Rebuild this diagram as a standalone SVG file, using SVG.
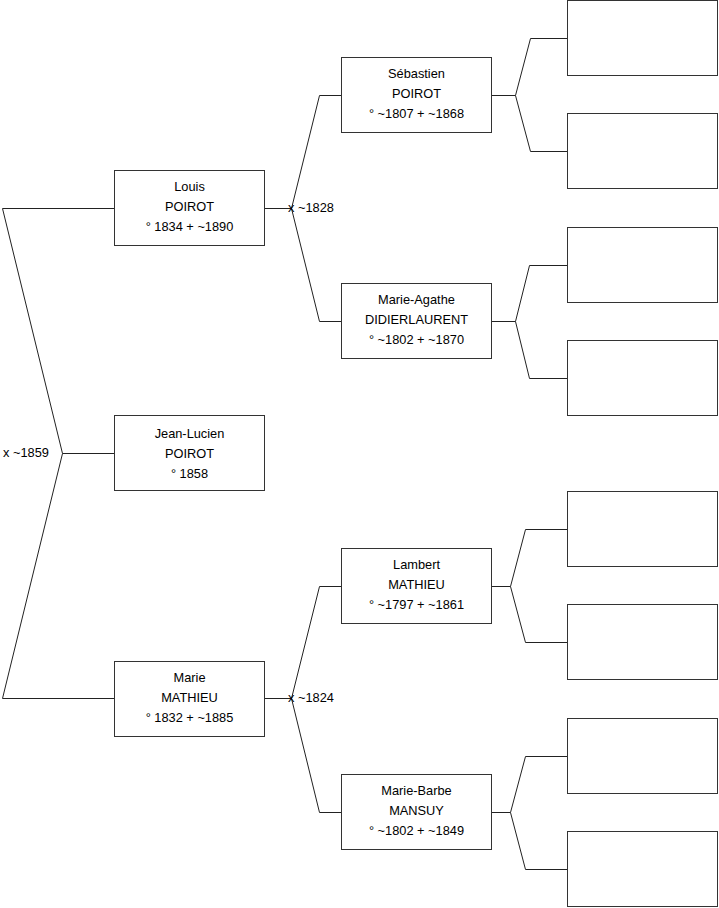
<svg xmlns="http://www.w3.org/2000/svg" width="719" height="908" viewBox="0 0 719 908">
<style>
.box{fill:#fff;stroke:#333;stroke-width:1}
.ln{fill:none;stroke:#222;stroke-width:1}
text{font-family:"Liberation Sans",Arial,sans-serif;font-size:12.8px;fill:#000}
.c{text-anchor:middle}
</style>
<rect width="719" height="908" fill="#fff"/>
<g id="connectors">
<polyline class="ln" points="114.5,208.5 2.5,208.5 62.5,453.5 2.5,698.5 114.5,698.5"/>
<line class="ln" x1="62.5" y1="453.5" x2="114.5" y2="453.5"/>
<polyline class="ln" points="341.5,95.5 319.5,95.5 291.5,208.5 319.5,321.5 341.5,321.5"/>
<line class="ln" x1="264.5" y1="208.5" x2="291.5" y2="208.5"/>
<polyline class="ln" points="341.5,586.5 319.5,586.5 291.5,698.5 319.5,812.5 341.5,812.5"/>
<line class="ln" x1="264.5" y1="698.5" x2="291.5" y2="698.5"/>
<polyline class="ln" points="567.5,38.5 530.5,38.5 515.5,95.5 530.5,151.5 567.5,151.5"/>
<line class="ln" x1="491.5" y1="95.5" x2="515.5" y2="95.5"/>
<polyline class="ln" points="567.5,265.5 529.5,265.5 515.5,321.5 529.5,378.5 567.5,378.5"/>
<line class="ln" x1="491.5" y1="321.5" x2="515.5" y2="321.5"/>
<polyline class="ln" points="567.5,529.5 525.5,529.5 510.5,586.5 525.5,642.5 567.5,642.5"/>
<line class="ln" x1="491.5" y1="586.5" x2="510.5" y2="586.5"/>
<polyline class="ln" points="567.5,756.5 525.5,756.5 510.5,812.5 525.5,869.5 567.5,869.5"/>
<line class="ln" x1="491.5" y1="812.5" x2="510.5" y2="812.5"/>
<text x="3" y="457">x ~1859</text>
<text x="288" y="212">x ~1828</text>
<text x="288" y="702">x ~1824</text>
</g>
<g id="louis"><rect class="box" x="114.5" y="170.5" width="150" height="75"/>
<text class="c" x="189.5" y="191">Louis</text><text class="c" x="189.5" y="211">POIROT</text><text class="c" x="189.5" y="231">° 1834 + ~1890</text></g>
<g id="jeanlucien"><rect class="box" x="114.5" y="415.5" width="150" height="75"/>
<text class="c" x="189.5" y="438">Jean-Lucien</text><text class="c" x="189.5" y="458">POIROT</text><text class="c" x="189.5" y="478">° 1858</text></g>
<g id="marie"><rect class="box" x="114.5" y="661.5" width="150" height="75"/>
<text class="c" x="189.5" y="682">Marie</text><text class="c" x="189.5" y="702">MATHIEU</text><text class="c" x="189.5" y="722">° 1832 + ~1885</text></g>
<g id="sebastien"><rect class="box" x="341.5" y="57.5" width="150" height="75"/>
<text class="c" x="416.5" y="78">Sébastien</text><text class="c" x="416.5" y="98">POIROT</text><text class="c" x="416.5" y="118">° ~1807 + ~1868</text></g>
<g id="marieagathe"><rect class="box" x="341.5" y="283.5" width="150" height="75"/>
<text class="c" x="416.5" y="304">Marie-Agathe</text><text class="c" x="416.5" y="324">DIDIERLAURENT</text><text class="c" x="416.5" y="344">° ~1802 + ~1870</text></g>
<g id="lambert"><rect class="box" x="341.5" y="548.5" width="150" height="75"/>
<text class="c" x="416.5" y="569">Lambert</text><text class="c" x="416.5" y="589">MATHIEU</text><text class="c" x="416.5" y="609">° ~1797 + ~1861</text></g>
<g id="mariebarbe"><rect class="box" x="341.5" y="774.5" width="150" height="75"/>
<text class="c" x="416.5" y="795">Marie-Barbe</text><text class="c" x="416.5" y="815">MANSUY</text><text class="c" x="416.5" y="835">° ~1802 + ~1849</text></g>
<g id="r1"><rect class="box" x="567.5" y="0.5" width="150" height="75"/></g>
<g id="r2"><rect class="box" x="567.5" y="113.5" width="150" height="75"/></g>
<g id="r3"><rect class="box" x="567.5" y="227.5" width="150" height="75"/></g>
<g id="r4"><rect class="box" x="567.5" y="340.5" width="150" height="75"/></g>
<g id="r5"><rect class="box" x="567.5" y="491.5" width="150" height="75"/></g>
<g id="r6"><rect class="box" x="567.5" y="604.5" width="150" height="75"/></g>
<g id="r7"><rect class="box" x="567.5" y="718.5" width="150" height="75"/></g>
<g id="r8"><rect class="box" x="567.5" y="831.5" width="150" height="75"/></g>
</svg>
